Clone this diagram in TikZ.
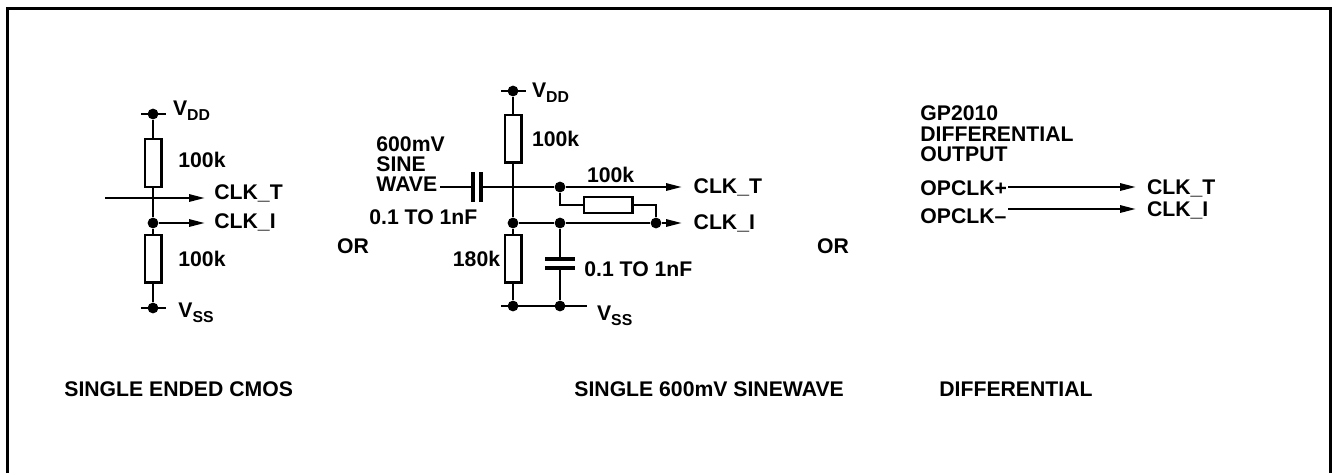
\documentclass[tikz,border=0pt]{standalone}
\usepackage{fontspec}
\setmainfont{Liberation Sans}
\usetikzlibrary{arrows.meta}
\newcommand{\lowidx}[1]{\raisebox{-2.8pt}{\fontsize{7.9}{8}\selectfont #1}}

\begin{document}
\begin{tikzpicture}[x=0.5pt, y=-0.5pt,
    wire/.style={line width=1.2pt},
    sig/.style={wire, -{Triangle[length=8pt,width=3.6pt]}},
    res/.style={draw, line width=1.2pt, rectangle, inner sep=0pt,
      minimum width=8.3pt, minimum height=23.8pt},
    hres/.style={res, minimum width=24.3pt, minimum height=8pt},
    plate/.style={line width=2.2pt},
    dot/.style={circle, fill, inner sep=0pt, minimum size=5.4pt},
    lbl/.style={anchor=base west, inner sep=0pt,
      font=\fontsize{10.6}{12}\selectfont\bfseries},
    lblr/.style={lbl, anchor=base east}]

  \useasboundingbox (0,0) rectangle (1332,473);
  \draw[line width=1.5pt] (7,473) |- (1330,8) -- (1330,473);

  % single ended CMOS
  \node[dot] (avdd) at (153,114) {};
  \coordinate (avddL) at (141,114);
  \coordinate (avddR) at (166,114);
  \node[res] (ar1) at (153,163) {};
  \node[dot] (ajun) at (153,223) {};
  \node[res] (ar2) at (153,258.5) {};
  \node[dot] (avss) at (153,308) {};
  \coordinate (avssL) at (141,308);
  \coordinate (avssR) at (166,308);
  \coordinate (aTin) at (105,198);
  \coordinate (aTout) at (205,198);
  \coordinate (aIout) at (205,223);

  \draw[wire] (avddL) -- (avddR);
  \draw[wire] (avssL) -- (avssR);
  \draw[wire] (avdd) -- (ar1.north);
  \draw[wire] (ar1.south) -- (ajun) -- (ar2.north);
  \draw[wire] (ar2.south) -- (avss);
  \draw[sig] (aTin) -- (aTout);
  \draw[sig] (ajun) -- (aIout);

  \node[lbl] (avddlbl) at (172.7,115) {V\lowidx{DD}};
  \node[lbl] (ar1lbl) at (178,167) {100k};
  \node[lbl] (aTlbl) at (214,199) {CLK\_T};
  \node[lbl] (aIlbl) at (214,228) {CLK\_I};
  \node[lbl] (ar2lbl) at (178,266.5) {100k};
  \node[lbl] (avsslbl) at (178,317) {V\lowidx{SS}};
  \node[lbl] (acap) at (64,396) {SINGLE ENDED CMOS};

  \node[lbl] (or1) at (336.7,253) {OR};

  % single 600mV sinewave
  \node[dot] (bvdd) at (513,91) {};
  \coordinate (bvddL) at (501,91);
  \coordinate (bvddR) at (526,91);
  \node[res] (br1) at (513,138.5) {};
  \node[dot] (btj) at (560,187) {};
  \node[dot] (bjun) at (513,223) {};
  \node[dot] (bcj) at (560,223) {};
  \node[dot] (bfb) at (656,223) {};
  \node[hres] (br3) at (608.3,204.7) {};
  \node[res] (br2) at (513,258.5) {};
  \node[dot] (bvss) at (513,306) {};
  \node[dot] (bvsc) at (560,306) {};
  \coordinate (bvssL) at (501,306);
  \coordinate (bvssR) at (587,306);
  \coordinate (bin) at (440,187);
  \coordinate (cp1) at (473,187);
  \coordinate (cp2) at (481,187);
  \coordinate (cc1) at (560,259);
  \coordinate (cc2) at (560,268);
  \coordinate (bTout) at (682,187);
  \coordinate (bIout) at (682,223);

  \draw[plate] (473,172) -- (473,202);
  \draw[plate] (481,172) -- (481,202);
  \draw[plate] (545,259) -- (575,259);
  \draw[plate] (545,268) -- (575,268);

  \draw[wire] (bvddL) -- (bvddR);
  \draw[wire] (bvssL) -- (bvssR);
  \draw[wire] (bvdd) -- (br1.north);
  \draw[wire] (br1.south) -- (bjun) -- (br2.north);
  \draw[wire] (br2.south) -- (bvss);
  \draw[wire] (bin) -- (cp1);
  \draw[sig] (cp2) -- (btj) -- (bTout);
  \draw[wire] (btj) |- (br3.west);
  \draw[wire] (br3.east) -| (bfb);
  \draw[sig] (bjun) -- (bcj) -- (bfb) -- (bIout);
  \draw[wire] (bcj) -- (cc1);
  \draw[wire] (cc2) -- (bvsc);

  \node[lbl] (bvddlbl) at (531.7,97) {V\lowidx{DD}};
  \node[lbl] (br1lbl) at (531.7,146) {100k};
  \node[lbl] (bsrc1) at (376,151.7) {600mV};
  \node[lbl] (bsrc2) at (376,171.7) {SINE};
  \node[lbl] (bsrc3) at (376,191.7) {WAVE};
  \node[lbl] (bc1lbl) at (369,224) {0.1 TO 1nF};
  \node[lbl] (br3lbl) at (586.7,182.7) {100k};
  \node[lbl] (bTlbl) at (693.3,193) {CLK\_T};
  \node[lbl] (bIlbl) at (693.3,229) {CLK\_I};
  \node[lblr] (br2lbl) at (500.5,266.7) {180k};
  \node[lbl] (bc2lbl) at (584,276.7) {0.1 TO 1nF};
  \node[lbl] (bvsslbl) at (596.7,320) {V\lowidx{SS}};
  \node[lbl] (bcap) at (574,396) {SINGLE 600mV SINEWAVE};

  \node[lbl] (or2) at (816.7,253) {OR};

  % differential
  \node[lbl] (cgp1) at (920,120) {GP2010};
  \node[lbl] (cgp2) at (920,141.5) {DIFFERENTIAL};
  \node[lbl] (cgp3) at (920,161.5) {OUTPUT};
  \node[lbl] (cplus) at (920,195) {OPCLK+};
  \node[lbl] (cminus) at (920,223) {OPCLK–};
  \coordinate (cpin) at (1008,187);
  \coordinate (cmin) at (1008,209);
  \coordinate (cTout) at (1136,187);
  \coordinate (cIout) at (1136,209);
  \draw[sig] (cpin) -- (cTout);
  \draw[sig] (cmin) -- (cIout);
  \node[lbl] (cTlbl) at (1146.7,194) {CLK\_T};
  \node[lbl] (cIlbl) at (1146.7,216.7) {CLK\_I};
  \node[lbl] (ccap) at (939,396) {DIFFERENTIAL};

\end{tikzpicture}
\end{document}
